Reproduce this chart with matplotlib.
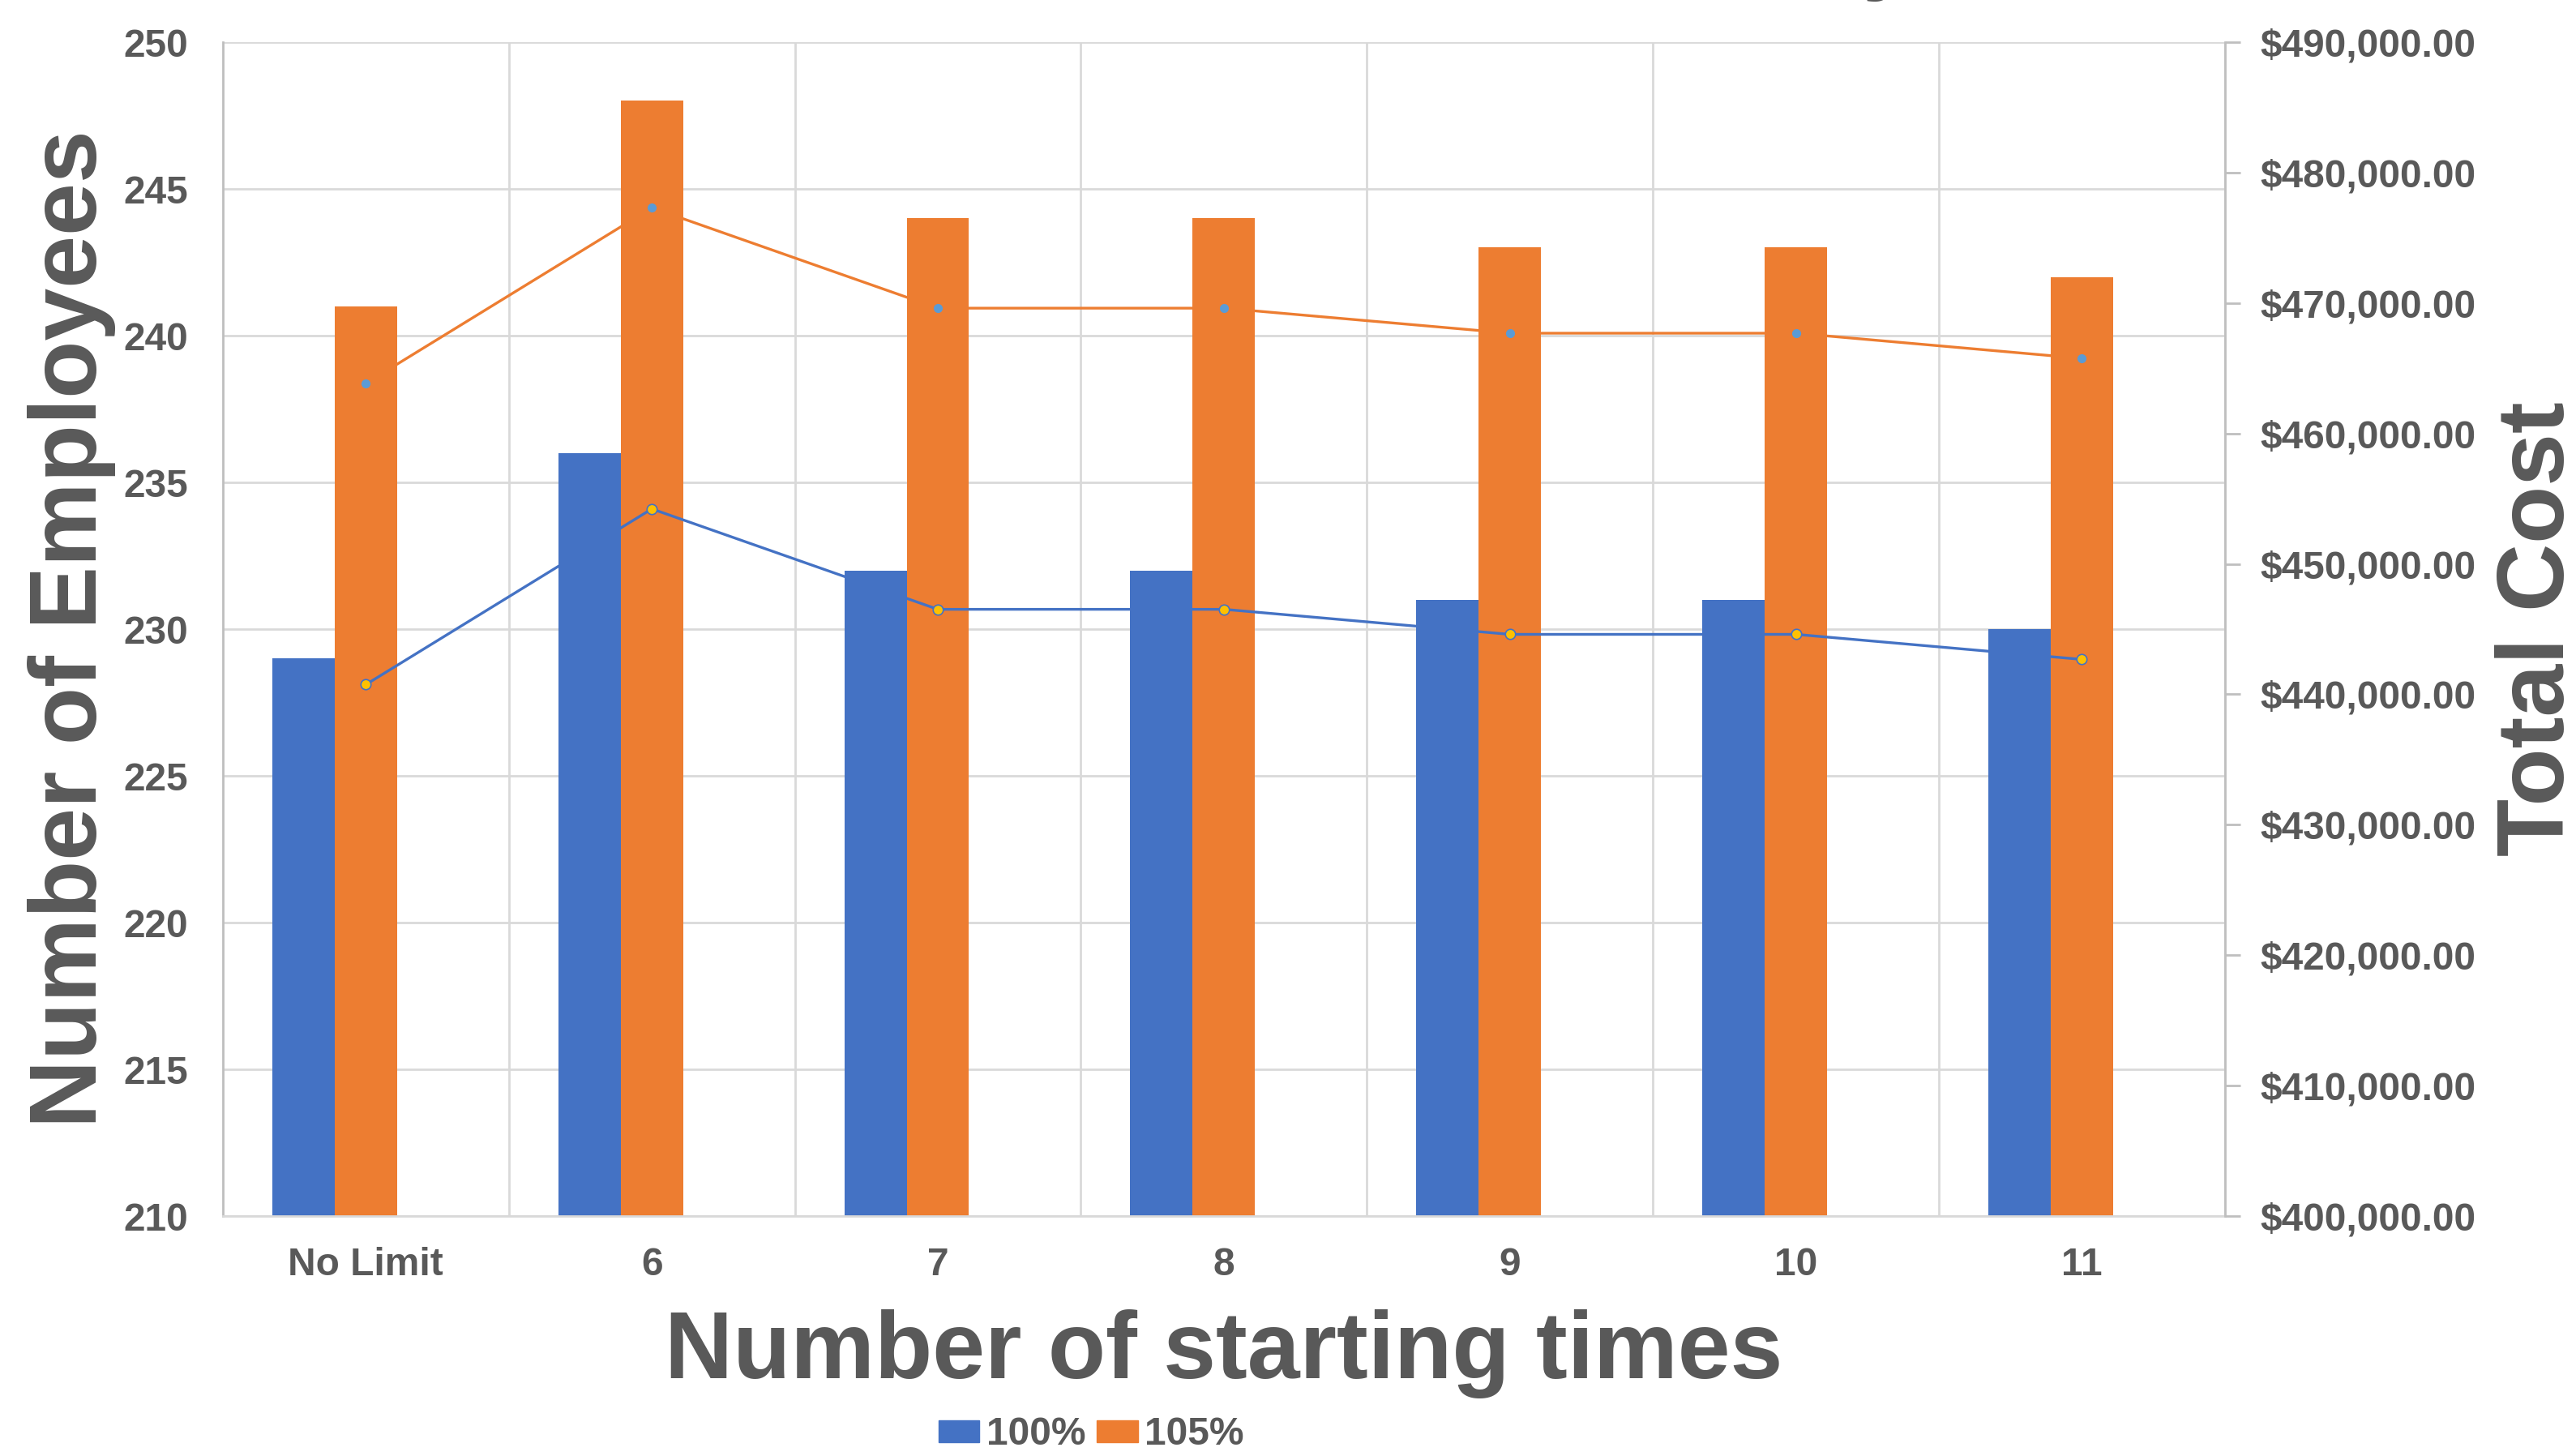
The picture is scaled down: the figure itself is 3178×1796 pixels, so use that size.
import matplotlib
matplotlib.use('Agg')
import matplotlib.pyplot as plt
from matplotlib.patches import Patch
import numpy as np

plt.rcParams['font.family'] = ['Liberation Sans', 'DejaVu Sans']
plt.rcParams['font.weight'] = 'bold'

TXT = '#595959'
GRID = '#D9D9D9'
BLUE = '#4472C4'
ORANGE = '#ED7D31'

# number of starting times allowed
categories = ['No Limit', '6', '7', '8', '9', '10', '11']

# employees needed at 100% / 105% demand
employees_100 = [229, 236, 232, 232, 231, 231, 230]
employees_105 = [241, 248, 244, 244, 243, 243, 242]

# total cost for each scenario (secondary axis)
cost_100 = [440750, 454220, 446520, 446520, 444600, 444600, 442680]
cost_105 = [463840, 477310, 469610, 469610, 467690, 467690, 465760]

series_names = ['100%', '105%']

fig = plt.figure(figsize=(31.78, 17.96), dpi=100)
ax = fig.add_axes([0.0865, 0.1648, 0.7772, 0.8062])
ax2 = ax.twinx()

x = np.arange(len(categories))
w = 0.218
ax.bar(x - w, employees_100, width=w, color=BLUE, zorder=2)
ax.bar(x, employees_105, width=w, color=ORANGE, zorder=2)

ax.set_ylim(210, 250)
ax.set_yticks(np.arange(210, 251, 5))
ax.set_xlim(-0.5, len(categories) - 0.5)
ax.set_xticks(x)
ax.set_xticklabels(categories)
ax.set_xticks(np.arange(-0.5, len(categories)), minor=True)

ax.grid(axis='y', color=GRID, lw=2, zorder=0)
ax.grid(axis='x', which='minor', color=GRID, lw=2, zorder=0)
ax.set_axisbelow(True)

ax.tick_params(axis='both', which='both', length=0, labelsize=34.5, labelcolor=TXT)
ax.tick_params(axis='x', pad=27)
ax.tick_params(axis='y', pad=31)
for s in ['top', 'right']:
    ax.spines[s].set_visible(False)
ax.spines['left'].set_color('#BFBFBF')
ax.spines['left'].set_linewidth(2)
ax.spines['bottom'].set_color(GRID)
ax.spines['bottom'].set_linewidth(2)

ax2.plot(x, cost_100, color=BLUE, lw=2.4, marker='o', ms=9,
         mfc='#FFC000', mec=BLUE, mew=1.2, zorder=4)
ax2.plot(x, cost_105, color=ORANGE, lw=2.4, marker='o', ms=7,
         mfc='#5B9BD5', mec='#5B9BD5', zorder=4)
ax2.set_ylim(400000, 490000)
ax2.set_yticks(np.arange(400000, 490001, 10000))
ax2.yaxis.set_major_formatter(plt.FuncFormatter(lambda v, p: '${:,.2f}'.format(v)))
ax2.tick_params(axis='y', length=14, width=2, color='#BFBFBF', pad=17.5,
                labelsize=34.5, labelcolor=TXT)
for s in ['top', 'left', 'bottom']:
    ax2.spines[s].set_visible(False)
ax2.spines['right'].set_color('#BFBFBF')
ax2.spines['right'].set_linewidth(2)

fig.text(0.0277, 0.568, 'Number of Employees', rotation=90, ha='center', va='center',
         fontsize=84, color=TXT)
fig.text(0.9858, 0.568, 'Total Cost', rotation=90, ha='center', va='center',
         fontsize=84, color=TXT)
fig.text(0.475, 0.0701, 'Number of starting times', ha='center', va='center',
         fontsize=84, color=TXT)

# chart title sits mostly above the canvas
fig.text(0.7435, 1.012, 'Total Cost Summary',
         ha='right', va='baseline', fontsize=84, color=TXT)

handles = [Patch(color=BLUE), Patch(color=ORANGE)]
leg = fig.legend(handles, series_names, loc='center', bbox_to_anchor=(0.4236, 0.0145),
                 ncol=2, frameon=False, fontsize=34.5, handlelength=1.06,
                 handleheight=0.52, handletextpad=0.17, columnspacing=0.3,
                 borderpad=0, borderaxespad=0)
for t in leg.get_texts():
    t.set_color(TXT)

fig.savefig('out.png', dpi=100, facecolor='white')
